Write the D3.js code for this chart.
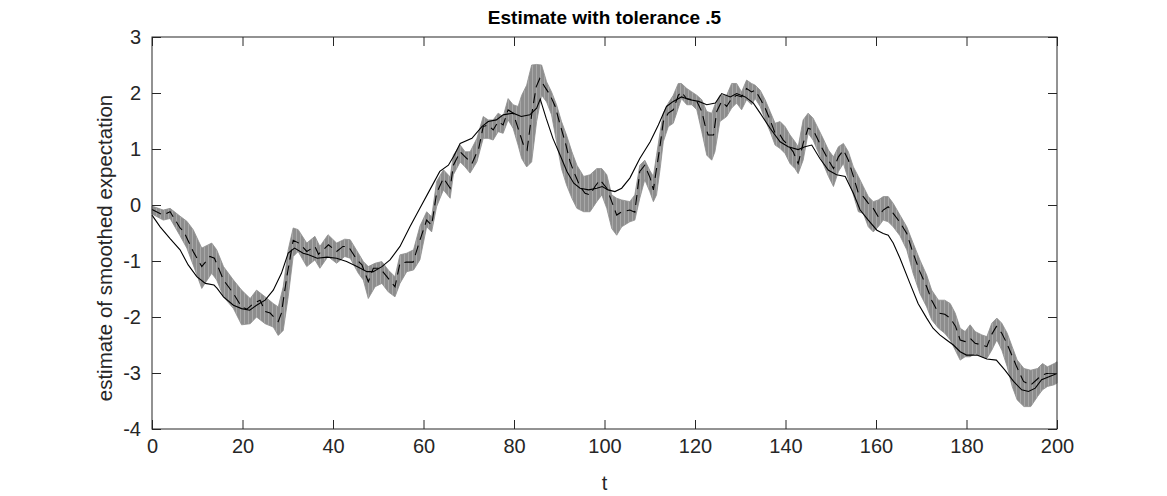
<!DOCTYPE html>
<html>
<head>
<meta charset="utf-8">
<script src="https://cdn.jsdelivr.net/npm/d3@7"></script>
<style>
  body { margin: 0; background: #fff; }
  svg { display: block; font-family: "Liberation Sans", Arial, Helvetica, sans-serif; }
  .tick text { font-size: 20px; fill: #262626; }
  .tick line { stroke: #262626; }
</style>
</head>
<body>
<svg id="chart"></svg>
<script>
// tick values
const xTicks = [0, 20, 40, 60, 80, 100, 120, 140, 160, 180, 200];
const yTicks = [-4, -3, -2, -1, 0, 1, 2, 3];

// estimate (dashed line)
const estT = [0, 2.5, 4, 6.2, 7, 9.1, 11, 12.8, 13.8, 15.8, 18, 19.8, 21, 22.4, 23.9, 25, 26.1, 27.9, 28.6, 29.8, 31.2, 32.7,
  34.2, 36, 36.8, 39, 40.8, 42.2, 43.4, 45.3, 46.4, 47.8, 48.9, 50.4, 51.9, 53.7, 54.8, 56.2, 57.7, 59.2, 60.7, 61.8, 62.9, 64.4, 65.9,
  66.6, 68.1, 69.2, 70.7, 72.2, 73.2, 74.3, 75.4, 76.5, 77.6, 78.7, 79.8, 80.9, 82.1, 82.9, 83.9, 84.9, 85.7, 86.8, 88, 89.1, 90.2,
  91.3, 92.4, 93.5, 94.6, 95.7, 96.8, 97.9, 99, 100.5,
  101.6, 102.7, 103.8, 105.6, 106.7, 107.8, 108.9, 110.1, 110.8, 111.5, 112.2, 113, 114.1, 115.2, 116.3, 117, 118.1, 119.3, 120.4,
  121.5, 122.2, 122.9, 124.1, 124.8, 125.9, 127, 128.1, 129.2, 130.3, 131.4, 132.5,
  133.3, 134.4, 135.5, 136.6, 137.7, 138.8, 139.5, 140.6, 141.7, 142.8, 143.9, 145, 146.1, 147.2, 148.3, 149.5, 150.6, 151.7,
  152.8, 153.9, 155, 156.1, 157.2, 158.3, 159.4, 160.5, 161.6, 162.7, 163.8, 165.3,
  166.8, 168.2, 169.7, 171.2, 172.3, 173.8, 175.2, 176.4, 177.6, 178.6, 179.7, 180.8, 181.9, 183.4, 184.5, 185.5, 186.6, 187.8,
  188.9, 190, 191.1, 192.6, 194.1, 195.5, 196.6, 197.7, 199.2, 200];
const estV = [-0.08, -0.18, -0.12, -0.41, -0.47, -0.83, -1.10, -0.92, -0.95, -1.34, -1.58, -1.82, -1.86, -1.76, -1.70, -1.90, -1.93, -2.08, -1.93, -1.28, -0.63, -0.69,
  -0.83, -0.74, -0.88, -0.71, -0.83, -0.74, -0.74, -0.98, -1.07, -1.37, -1.13, -1.13, -1.28, -1.46, -1.04, -1.02, -1.02, -0.63, -0.27, -0.36, 0.21, 0.48, 0.30,
  0.71, 0.95, 0.86, 0.74, 1.01, 1.40, 1.43, 1.34, 1.49, 1.43, 1.70, 1.64, 1.37, 1.07, 0.98, 1.61, 2.11, 2.26, 2.11, 1.96, 1.76, 1.43,
  1.13, 0.77, 0.54, 0.33, 0.21, 0.18, 0.33, 0.45, 0.30,
  0.06, -0.18, -0.12, -0.09, -0.13, 0.60, 0.71, 0.48, 0.27, 0.65, 1.01, 1.49, 1.64, 1.70, 1.96, 2.02, 1.90, 1.88, 1.85,
  1.67, 1.43, 1.25, 1.25, 1.67, 1.85, 1.76, 1.90, 1.96, 1.93, 2.08, 2.02,
  2.05, 1.90, 1.73, 1.52, 1.28, 1.25, 1.16, 1.07, 0.95, 0.74, 1.10, 1.37, 1.34, 1.16, 0.98, 0.80, 0.65, 0.86,
  0.98, 0.80, 0.51, 0.21, 0.15, 0.03, -0.06, -0.21, -0.09, -0.03, -0.15, -0.31,
  -0.51, -0.86, -1.19, -1.46, -1.70, -1.93, -1.95, -2.02, -2.17, -2.41, -2.44, -2.38, -2.47, -2.50, -2.53, -2.32, -2.17, -2.29,
  -2.47, -2.68, -2.89, -3.15, -3.22, -3.12, -3.04, -3.01, -3.01, -3.00];

// tolerance band, upper and lower edge
const bandT = [0, 2.5, 4, 6.2, 7.7, 9.1, 11, 11.7, 13.2, 14.3, 15.8, 18, 19.8, 21.7, 23.1, 25, 26.8, 27.9, 29, 30.1, 31.2, 32.3,
  34.2, 36, 37.1, 38.9, 40.8, 42.6, 43.8, 45.6, 46.7, 47.8, 49.3, 50.8, 52.2, 53.7, 54.8, 56.3, 57.8, 59.2, 60.7, 61.8, 62.9, 64.4, 65.9,
  66.6, 68.1, 69.2, 70.3, 71.8, 73.2, 74.3, 75.4, 76.5, 77.6, 78.7, 79.8, 80.9, 81.7, 82.8, 83.9, 85, 86.1, 87.2, 88.3, 89.4, 90.5,
  91.6, 92.8, 93.9, 95.4, 96.8, 98.3, 99.4,
  100.5, 101.6, 102.7, 103.8, 105.6, 106.7, 107.8, 108.9, 110, 110.8, 111.5, 112.3, 113, 114.1, 115.2, 116.3, 117, 118.2, 119.3,
  120.4, 121.5, 122.6, 123.7, 124.4, 125.5, 127, 128.1, 129.2, 130.3, 131.4, 132.5,
  133.3, 134.4, 135.5, 136.6, 137.7, 138.8, 139.9, 141, 142.1, 142.8, 143.9, 145, 146.1, 147.2, 148.3, 149.5, 150.6, 151.7,
  152.8, 153.9, 155, 156.1, 157.2, 158.3, 159.4, 160.5, 161.6, 162.7, 163.8,
  165.3, 166.8, 168.2, 169.7, 171.2, 172.3, 173.8, 175.2, 176.4, 177.5, 178.6, 179.7, 180.8, 181.9, 183.4, 184.5, 185.6, 186.7,
  187.8, 189, 190.1, 191.2, 192.7, 194.2, 195.7, 196.8, 197.9, 199.4, 200];
const bandHi = [-0.02, -0.09, -0.06, -0.20, -0.29, -0.44, -0.77, -0.74, -0.68, -0.80, -1.10, -1.34, -1.52, -1.67, -1.52, -1.64, -1.76, -1.82, -1.46, -0.80, -0.41, -0.44,
  -0.68, -0.56, -0.74, -0.53, -0.68, -0.61, -0.62, -0.86, -1.01, -1.10, -1.04, -1.01, -1.16, -1.28, -0.89, -0.86, -0.80, -0.38, -0.12, -0.21, 0.42, 0.63, 0.50,
  0.89, 1.07, 0.95, 0.95, 1.19, 1.58, 1.52, 1.52, 1.64, 1.58, 1.90, 1.79, 1.76, 1.96, 2.14, 2.50, 2.51, 2.50, 2.20, 2.02, 1.79, 1.49,
  1.25, 0.95, 0.71, 0.51, 0.54, 0.65, 0.65,
  0.54, 0.18, 0.12, 0.09, 0.06, 0.18, 0.71, 0.80, 0.62, 0.51, 0.89, 1.31, 1.64, 1.82, 1.96, 2.17, 2.17, 2.08, 2.02,
  1.96, 1.88, 1.67, 1.64, 1.79, 1.96, 1.96, 2.17, 2.17, 2.02, 2.23, 2.17,
  2.14, 2.05, 1.88, 1.67, 1.46, 1.49, 1.40, 1.25, 1.13, 1.04, 1.52, 1.64, 1.55, 1.37, 1.19, 0.98, 0.86, 1.04,
  1.10, 0.95, 0.68, 0.51, 0.33, 0.15, 0.06, 0.09, 0.15, 0.15, 0.03,
  -0.18, -0.39, -0.68, -0.98, -1.25, -1.52, -1.70, -1.70, -1.76, -1.93, -2.20, -2.26, -2.14, -2.26, -2.32, -2.35, -2.11, -2.02,
  -2.11, -2.29, -2.53, -2.77, -2.92, -2.95, -2.92, -2.83, -2.89, -2.83, -2.80];
const bandLo = [-0.16, -0.27, -0.24, -0.55, -0.77, -1.07, -1.49, -1.40, -1.22, -1.34, -1.64, -1.85, -2.14, -2.12, -2.00, -2.12, -2.18, -2.33, -2.24, -1.64, -0.92, -0.83,
  -1.10, -0.98, -1.13, -0.92, -1.04, -0.92, -0.95, -1.22, -1.34, -1.67, -1.46, -1.40, -1.55, -1.64, -1.40, -1.19, -1.16, -0.98, -0.39, -0.48, -0.03, 0.27, 0.12,
  0.54, 0.77, 0.68, 0.57, 0.77, 1.19, 1.19, 1.16, 1.31, 1.28, 1.52, 1.37, 1.07, 0.83, 0.68, 0.77, 1.49, 1.96, 1.84, 1.61, 1.13, 0.65,
  0.36, 0.12, -0.06, -0.12, -0.12, 0.06, 0.18,
  -0.06, -0.42, -0.54, -0.39, -0.30, -0.27, 0.12, 0.45, 0.24, 0.06, 0.18, 0.65, 1.13, 1.40, 1.46, 1.73, 1.90, 1.79, 1.79,
  1.70, 1.31, 0.89, 0.80, 0.95, 1.49, 1.58, 1.73, 1.82, 1.70, 1.88, 1.79,
  1.90, 1.76, 1.52, 1.31, 1.07, 1.01, 0.92, 0.74, 0.65, 0.56, 0.80, 1.28, 1.16, 0.95, 0.74, 0.51, 0.33, 0.60,
  0.74, 0.45, 0.18, -0.12, -0.15, -0.39, -0.48, -0.39, -0.27, -0.30, -0.39,
  -0.55, -0.80, -1.22, -1.58, -1.82, -2.05, -2.20, -2.29, -2.41, -2.59, -2.77, -2.71, -2.71, -2.65, -2.71, -2.74, -2.59, -2.41,
  -2.59, -2.89, -3.24, -3.48, -3.60, -3.60, -3.42, -3.30, -3.24, -3.21, -3.18];

// smoothed expectation (solid line)
const smoothT = [0, 1.8, 4, 6.2, 8, 9.9, 11.8, 13.7, 14.4, 15.8, 18, 19.8, 21.6, 23.1, 25, 26.8, 28.6, 30.1, 31.5, 33.4,
  34.6, 36.5, 38.7, 40.8, 43, 45.3, 47.5, 48.9, 50.8, 52.6, 54.8, 57, 59.2, 61.4, 63.6, 65.5, 66.8, 68.1, 70.7, 72.9,
  74.3, 76.1, 77.6, 79.8, 81.6, 83.5, 85, 85.8, 87.1, 88.6, 90.2, 91.7, 93.2, 94.6, 96.5, 98.3, 99.5, 100.8, 102.3, 103.8,
  105.6, 107.8, 110.1, 111.9, 113.7, 115.2, 117, 118.9, 120.8, 122.6, 124.5, 125.9, 127.8, 129.2, 131.1, 132.9, 134.4,
  136.6, 138.8, 140.6, 142.8, 144.3, 145.8, 147.6, 149.5, 151.3, 153.2, 155, 156.5, 158.3, 160.2, 161.6, 162.7, 163.8,
  165.3, 167.5, 169.3, 171.2, 172.6, 174.1, 175.6, 177.1, 178.6, 180, 182.3, 184.5, 186.6, 188.5, 190.4, 192.2, 193.7,
  195.2, 196.6, 198.1, 200];
const smoothV = [-0.18, -0.39, -0.60, -0.80, -1.07, -1.28, -1.40, -1.43, -1.49, -1.64, -1.79, -1.85, -1.88, -1.79, -1.70, -1.52, -1.22, -0.86, -0.77, -0.86,
  -0.89, -0.95, -0.93, -0.95, -1.01, -1.10, -1.19, -1.19, -1.10, -0.98, -0.74, -0.39, -0.06, 0.27, 0.60, 0.71, 0.89, 1.10, 1.19, 1.40,
  1.49, 1.52, 1.61, 1.64, 1.58, 1.61, 1.73, 1.89, 1.55, 1.19, 0.89, 0.60, 0.39, 0.30, 0.27, 0.30, 0.33, 0.27, 0.24, 0.30,
  0.48, 0.83, 1.13, 1.43, 1.76, 1.85, 1.93, 1.88, 1.85, 1.79, 1.82, 1.99, 1.93, 1.99, 1.93, 1.82, 1.64,
  1.37, 1.13, 1.04, 0.99, 1.04, 1.07, 0.83, 0.62, 0.54, 0.51, 0.21, -0.09, -0.27, -0.45, -0.51, -0.54, -0.68,
  -0.95, -1.40, -1.76, -2.02, -2.20, -2.32, -2.41, -2.50, -2.62, -2.68, -2.68, -2.75, -2.77, -2.95, -3.15, -3.30, -3.33,
  -3.27, -3.12, -3.07, -3.01];

const Chart = {
    width: 1167,
    height: 496,
    margin: { top: 37, right: 110, bottom: 67, left: 152 },
    draw: function() {
        const m = this.margin;
        const w = this.width - m.left - m.right;
        const h = this.height - m.top - m.bottom;

        const x = d3.scaleLinear().domain([0, 200]).range([0, w]);
        const y = d3.scaleLinear().domain([-4, 3]).range([h, 0]);

        const svg = d3.select("#chart")
            .attr("width", this.width)
            .attr("height", this.height);

        // grey fill with light vertical streaks, like the band's hatching
        const pat = svg.append("defs").append("pattern")
            .attr("id", "stripes")
            .attr("patternUnits", "userSpaceOnUse")
            .attr("width", 4)
            .attr("height", 10);
        pat.append("rect").attr("width", 4).attr("height", 10).attr("fill", "#8d8d8d");
        pat.append("rect").attr("width", 1).attr("height", 10).attr("fill", "#a8a8a8");

        const g = svg.append("g").attr("transform", `translate(${m.left},${m.top})`);

        const band = bandT.map((t, i) => ({ t: t, hi: bandHi[i], lo: bandLo[i] }));
        const est = estT.map((t, i) => ({ t: t, v: estV[i] }));
        const smooth = smoothT.map((t, i) => ({ t: t, v: smoothV[i] }));

        g.append("path")
            .datum(band)
            .attr("fill", "url(#stripes)")
            .attr("stroke", "#8d8d8d")
            .attr("stroke-width", 0.8)
            .attr("d", d3.area().x(d => x(d.t)).y0(d => y(d.lo)).y1(d => y(d.hi)));

        const line = d3.line().x(d => x(d.t)).y(d => y(d.v));

        g.append("path")
            .datum(smooth)
            .attr("fill", "none")
            .attr("stroke", "#000")
            .attr("stroke-width", 1.1)
            .attr("d", line);

        g.append("path")
            .datum(est)
            .attr("fill", "none")
            .attr("stroke", "#000")
            .attr("stroke-width", 1.1)
            .attr("stroke-dasharray", "10,6")
            .attr("d", line);

        // axes, ticks pointing inward on all four sides
        const fmt = d => String(d);
        g.append("g")
            .attr("transform", `translate(0,${h})`)
            .call(d3.axisBottom(x).tickValues(xTicks).tickFormat(fmt).tickSizeInner(-9).tickSizeOuter(0).tickPadding(10))
            .call(a => a.select(".domain").remove());
        g.append("g")
            .call(d3.axisTop(x).tickValues(xTicks).tickSizeInner(-9).tickSizeOuter(0).tickFormat(""))
            .call(a => a.select(".domain").remove());
        g.append("g")
            .call(d3.axisLeft(y).tickValues(yTicks).tickFormat(fmt).tickSizeInner(-9).tickSizeOuter(0).tickPadding(11))
            .call(a => a.select(".domain").remove());
        g.append("g")
            .attr("transform", `translate(${w},0)`)
            .call(d3.axisRight(y).tickValues(yTicks).tickSizeInner(-9).tickSizeOuter(0).tickFormat(""))
            .call(a => a.select(".domain").remove());

        g.append("rect")
            .attr("width", w)
            .attr("height", h)
            .attr("fill", "none")
            .attr("stroke", "#262626")
            .attr("stroke-width", 1);

        svg.append("text")
            .attr("x", m.left + w / 2)
            .attr("y", 24)
            .attr("text-anchor", "middle")
            .attr("font-size", 19)
            .attr("font-weight", "bold")
            .attr("fill", "#000")
            .text("Estimate with tolerance .5");

        svg.append("text")
            .attr("x", m.left + w / 2)
            .attr("y", 490)
            .attr("text-anchor", "middle")
            .attr("font-size", 20)
            .attr("fill", "#262626")
            .text("t");

        svg.append("text")
            .attr("transform", `translate(112,248) rotate(-90)`)
            .attr("text-anchor", "middle")
            .attr("font-size", 20.5)
            .attr("fill", "#262626")
            .text("estimate of smoothed expectation");
    }
};

Chart.draw();
</script>
</body>
</html>
